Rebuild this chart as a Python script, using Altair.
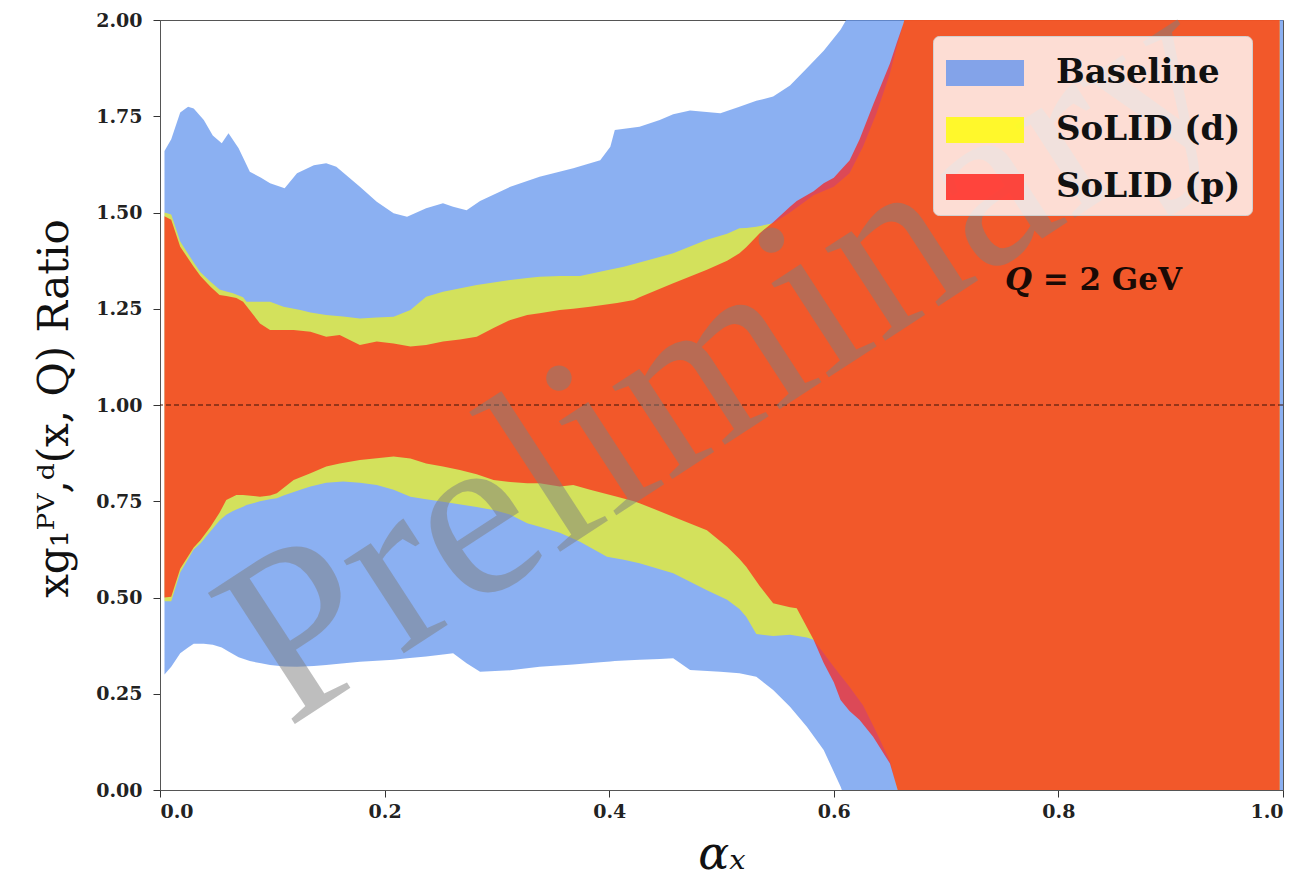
import altair as alt
import pandas as pd

# ---------------- data ----------------
series_names = ["Baseline", "SoLID (d)", "SoLID (p)"]
series_colors = ["#6495ed", "#ffff00", "#ff1e15"]
series_opacity = [0.75, 0.62, 0.70]

base_x = [0.004, 0.010, 0.018, 0.025, 0.030, 0.039, 0.047, 0.055, 0.061, 0.070,
          0.080, 0.090, 0.098, 0.111, 0.122, 0.137, 0.148, 0.157, 0.178, 0.193,
          0.208, 0.220, 0.237, 0.252, 0.261, 0.273, 0.285, 0.312, 0.338, 0.368,
          0.392, 0.401, 0.405, 0.427, 0.445, 0.457, 0.472, 0.499, 0.516, 0.531,
          0.546, 0.561, 0.576, 0.591, 0.606, 0.615, 0.630, 1.000]
base_lo = [0.30, 0.32, 0.355, 0.37, 0.38, 0.38, 0.377, 0.37, 0.36, 0.345,
           0.335, 0.329, 0.325, 0.321, 0.320, 0.322, 0.325, 0.327, 0.333, 0.336,
           0.338, 0.342, 0.347, 0.352, 0.355, 0.329, 0.307, 0.311, 0.320, 0.326,
           0.332, 0.334, 0.335, 0.338, 0.340, 0.342, 0.312, 0.307, 0.303, 0.294,
           0.260, 0.216, 0.164, 0.104, 0.009, -0.06, -0.20, -0.20]
base_hi = [1.66, 1.69, 1.76, 1.775, 1.77, 1.74, 1.70, 1.68, 1.706, 1.667,
           1.606, 1.59, 1.576, 1.563, 1.602, 1.623, 1.628, 1.619, 1.567, 1.528,
           1.498, 1.489, 1.511, 1.524, 1.515, 1.506, 1.53, 1.567, 1.593, 1.615,
           1.636, 1.671, 1.714, 1.723, 1.740, 1.755, 1.765, 1.758, 1.775, 1.79,
           1.801, 1.83, 1.875, 1.92, 1.975, 2.02, 2.15, 2.20]

d_x = [0.004, 0.010, 0.018, 0.030, 0.036, 0.045, 0.053, 0.059, 0.065, 0.074,
       0.077, 0.089, 0.098, 0.104, 0.110, 0.125, 0.134, 0.148, 0.163, 0.178,
       0.193, 0.208, 0.223, 0.237, 0.252, 0.282, 0.297, 0.312, 0.327, 0.338,
       0.356, 0.374, 0.398, 0.413, 0.427, 0.457, 0.487, 0.505, 0.516, 0.522,
       0.531, 0.546, 0.561, 0.576, 0.582, 0.600, 0.614, 0.626, 0.638, 0.650,
       0.656, 0.662, 0.680, 0.997]
d_lo = [0.49, 0.49, 0.565, 0.625, 0.64, 0.672, 0.70, 0.715, 0.725, 0.736,
        0.74, 0.75, 0.755, 0.758, 0.765, 0.78, 0.788, 0.798, 0.801, 0.798,
        0.792, 0.78, 0.762, 0.755, 0.749, 0.735, 0.727, 0.715, 0.693, 0.684,
        0.668, 0.645, 0.606, 0.598, 0.589, 0.563, 0.519, 0.494, 0.470, 0.450,
        0.405, 0.400, 0.403, 0.396, 0.390, 0.320, 0.268, 0.220, 0.150, 0.075,
        0.009, -0.05, -0.20, -0.20]
d_hi = [1.50, 1.495, 1.425, 1.37, 1.345, 1.32, 1.30, 1.295, 1.29, 1.28,
        1.268, 1.268, 1.268, 1.262, 1.255, 1.247, 1.24, 1.234, 1.23, 1.225,
        1.227, 1.229, 1.247, 1.281, 1.294, 1.312, 1.318, 1.325, 1.33, 1.333,
        1.335, 1.335, 1.35, 1.359, 1.37, 1.394, 1.429, 1.445, 1.459, 1.46,
        1.463, 1.472, 1.50, 1.532, 1.545, 1.567, 1.602, 1.671, 1.757, 1.861,
        1.93, 1.99, 2.20, 2.20]

p_x = [0.004, 0.010, 0.018, 0.030, 0.036, 0.045, 0.053, 0.059, 0.068, 0.074,
       0.089, 0.098, 0.104, 0.119, 0.134, 0.148, 0.160, 0.178, 0.193, 0.208,
       0.223, 0.237, 0.252, 0.267, 0.282, 0.297, 0.312, 0.327, 0.338, 0.356,
       0.368, 0.383, 0.407, 0.422, 0.427, 0.457, 0.487, 0.505, 0.516, 0.522,
       0.534, 0.546, 0.561, 0.567, 0.582, 0.591, 0.600, 0.606, 0.614, 0.623,
       0.635, 0.650, 0.656, 0.662, 0.680, 0.997]
p_lo = [0.50, 0.502, 0.575, 0.63, 0.649, 0.684, 0.72, 0.753, 0.766, 0.766,
        0.762, 0.765, 0.771, 0.805, 0.823, 0.840, 0.848, 0.857, 0.862, 0.866,
        0.861, 0.848, 0.84, 0.831, 0.82, 0.805, 0.80, 0.797, 0.797, 0.788,
        0.792, 0.78, 0.762, 0.75, 0.745, 0.710, 0.675, 0.632, 0.60, 0.580,
        0.53, 0.485, 0.475, 0.472, 0.390, 0.330, 0.28, 0.234, 0.205, 0.182,
        0.138, 0.069, 0.009, -0.05, -0.20, -0.20]
p_hi = [1.49, 1.481, 1.411, 1.359, 1.335, 1.307, 1.286, 1.283, 1.278, 1.268,
        1.212, 1.195, 1.195, 1.195, 1.190, 1.177, 1.182, 1.156, 1.165, 1.160,
        1.152, 1.156, 1.165, 1.17, 1.177, 1.20, 1.221, 1.234, 1.238, 1.247,
        1.25, 1.255, 1.265, 1.273, 1.28, 1.316, 1.351, 1.375, 1.394, 1.41,
        1.446, 1.475, 1.515, 1.53, 1.555, 1.576, 1.59, 1.61, 1.635, 1.69,
        1.78, 1.887, 1.94, 1.991, 2.20, 2.20]

x_ticks = [0.0, 0.2, 0.4, 0.6, 0.8, 1.0]
y_ticks = [0.0, 0.25, 0.5, 0.75, 1.0, 1.25, 1.5, 1.75, 2.0]

ref_line = [1.0]
watermark = {"x": [0.502], "y": [1.118], "t": ["Preliminary"]}
q_symbol = {"x": [0.7525], "y": [1.30], "t": ["Q"]}
q_rest_text = {"x": [0.786], "y": [1.30], "t": ["= 2 GeV"]}

# ---------------- build tables ----------------
rows = []
for name, xs, lo, hi in [("Baseline", base_x, base_lo, base_hi),
                         ("SoLID (d)", d_x, d_lo, d_hi),
                         ("SoLID (p)", p_x, p_lo, p_hi)]:
    for a, b, c in zip(xs, lo, hi):
        rows.append({"series": name, "x": a, "lo": b, "hi": c})
bands = pd.DataFrame(rows)

SERIF = "DejaVu Serif"

xscale = alt.Scale(domain=[0, 1], nice=False, zero=False)
yscale = alt.Scale(domain=[0, 2], nice=False, zero=False)
cscale = alt.Scale(domain=series_names, range=series_colors)

X_TITLE = "αₓ"
Y_TITLE = "xg₁ᴾⱽ,ᵈ(x, Q) Ratio"

x_axis = alt.Axis(values=x_ticks, format=".1f", title=X_TITLE, titleFontSize=46,
                  titleFontStyle="italic", titleY=64, titleBaseline="middle",
                  labelPadding=5)
y_axis = alt.Axis(values=y_ticks, format=".2f", title=Y_TITLE, titleFontSize=42,
                  titleAngle=270, titleX=-106, titleY=388, titleAlign="center",
                  titleBaseline="middle", labelPadding=11)


def X(field):
    return alt.X(field, scale=xscale, axis=x_axis, title=X_TITLE)


def Y(field):
    return alt.Y(field, scale=yscale, axis=y_axis, title=Y_TITLE)


legend = alt.Legend(
    title=None, orient="none", legendX=773, legendY=16,
    fillColor="rgba(255,255,255,0.8)", strokeColor="#d0d0d0", cornerRadius=6,
    padding=11, rowPadding=14,
    symbolType="M-1.5,-0.5H1.5V0.5H-1.5Z", symbolSize=2704,
    symbolOpacity=0.8, symbolStrokeWidth=0, symbolOffset=15,
    labelOffset=45, labelFont=SERIF, labelFontWeight="bold",
    labelFontSize=34, labelColor="#111", labelLimit=400,
)

layers = []
for i, name in enumerate(series_names):
    layers.append(
        alt.Chart(bands)
        .transform_filter(alt.datum.series == name)
        .mark_area(opacity=series_opacity[i], clip=True, interpolate="linear")
        .encode(
            x=X("x:Q"),
            y=Y("lo:Q"),
            y2="hi:Q",
            color=alt.Color("series:N", scale=cscale, legend=legend),
        )
    )

rule = alt.Chart(pd.DataFrame({"lo": ref_line})).mark_rule(
    color="#3a1208", strokeDash=[5, 3], strokeWidth=1
).encode(y=Y("lo:Q"))

wm = alt.Chart(pd.DataFrame(watermark).rename(columns={"y": "lo"})).mark_text(
    angle=327, fontSize=240, font="Liberation Serif", color="#7f7f7f",
    opacity=0.5, align="center", baseline="middle"
).encode(x=X("x:Q"), y=Y("lo:Q"), text="t:N")

q_italic = alt.Chart(pd.DataFrame(q_symbol).rename(columns={"y": "lo"})).mark_text(
    font=SERIF, fontWeight="bold", fontStyle="italic", fontSize=31, color="#1a0a05",
    align="left", baseline="alphabetic"
).encode(x=X("x:Q"), y=Y("lo:Q"), text="t:N")
q_rest = alt.Chart(pd.DataFrame(q_rest_text).rename(columns={"y": "lo"})).mark_text(
    font=SERIF, fontWeight="bold", fontSize=31, color="#1a0a05",
    align="left", baseline="alphabetic"
).encode(x=X("x:Q"), y=Y("lo:Q"), text="t:N")

chart = alt.layer(*layers, rule, wm, q_italic, q_rest).properties(
    width=1123, height=770,
    autosize=alt.AutoSizeParams(type="none"),
    padding={"left": 152, "top": 12, "right": 21, "bottom": 92},
    background="white",
).configure_axis(
    labelFont=SERIF, labelFontWeight="bold", labelFontSize=19, labelColor="#222",
    tickColor="#333", tickSize=7, tickWidth=1, domainColor="#555", grid=False,
    titleFont=SERIF, titleFontWeight="normal", titleColor="#111",
).configure_view(stroke="#555", strokeWidth=1)

chart.save("out.html", embed_options={"renderer": "svg", "actions": False})
